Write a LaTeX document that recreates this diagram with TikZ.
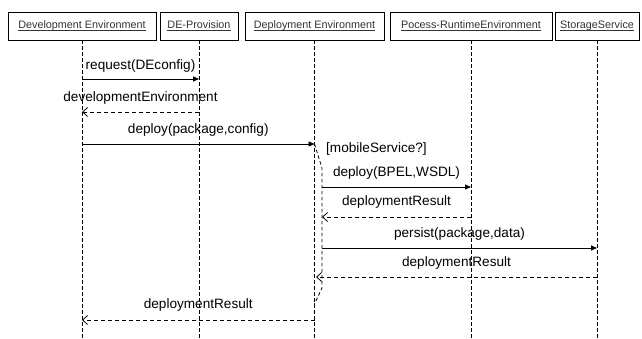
\documentclass[tikz,border=0pt]{standalone}
\usepackage{fontspec}
\setmainfont{Liberation Sans}
\usetikzlibrary{arrows.meta}
\definecolor{lbl}{HTML}{333333}
\newcommand\myul[1]{\setbox0\hbox{#1}\rlap{\color{lbl}\rule[-1.9pt]{\wd0}{0.75pt}}\box0}
\tikzset{
  obj/.style={draw=black, line width=0.8pt, minimum height=28pt, inner sep=0pt, font=\fontsize{10.8}{13}\selectfont, text=lbl},
  life/.style={draw=black, line width=0.7pt, dash pattern=on 3.5pt off 2.5pt},
  callmsg/.style={draw=black, line width=0.8pt, -{Triangle[length=6pt,width=5pt]}},
  retmsg/.style={draw=black, line width=0.8pt, dash pattern=on 4pt off 3pt, -{Straight Barb[length=5pt,width=9pt]}},
  mlabel/.style={font=\fontsize{13.6}{15}\selectfont, inner sep=0pt, text=black},
}
\begin{document}
\begin{tikzpicture}[x=1pt,y=-1pt]
\useasboundingbox[fill=white] (0,0) rectangle (642,339);
% objects
\node[obj, minimum width=148pt] (de) at (82,26) {\myul{Development Environment}};
\node[obj, minimum width=78pt] (dp) at (199,26) {\myul{DE-Provision}};
\node[obj, minimum width=139pt] (dep) at (314.5,26) {\myul{Deployment Environment}};
\node[obj, minimum width=162pt] (pre) at (471,26) {\myul{Pocess-RuntimeEnvironment}};
\node[obj, minimum width=84pt] (ss) at (597,26) {\myul{StorageService}};
% lifeline ends
\coordinate (bot) at (0,339);
\draw[life] (de.south) -- (de.south |- bot);
\draw[life] (dp.south) -- (dp.south |- bot);
\draw[life] (dep.south) -- (dep.south |- bot);
\draw[life] (pre.south) -- (pre.south |- bot);
\draw[life] (ss.south) -- (ss.south |- bot);
% branch (activation) for mobileService
\coordinate (b1) at (314.5,144);
\coordinate (b2) at (322,168);
\coordinate (b3) at (322,288);
\coordinate (b4) at (314.5,304);
\draw[life, line width=0.8pt] (b1) -- (b2) -- (b3) -- (b4);
\node[mlabel, anchor=west] (guard) at (326,149) {[mobileService?]};
% messages
\coordinate (m1a) at (de.south |- 0,79);
\coordinate (m1b) at (dp.south |- 0,79);
\draw[callmsg] (m1a) -- (m1b) node[mlabel, midway, yshift=13pt] (l1) {request(DEconfig)};
\coordinate (m2a) at (dp.south |- 0,112);
\coordinate (m2b) at (de.south |- 0,112);
\draw[retmsg] (m2a) -- (m2b) node[mlabel, midway, yshift=14pt] (l2) {developmentEnvironment};
\coordinate (m3a) at (de.south |- 0,144);
\draw[callmsg] (m3a) -- (b1) node[mlabel, midway, yshift=14pt] (l3) {deploy(package,config)};
\coordinate (m4a) at (322,187);
\coordinate (m4b) at (pre.south |- 0,187);
\draw[callmsg] (m4a) -- (m4b) node[mlabel, midway, yshift=14pt] (l4) {deploy(BPEL,WSDL)};
\coordinate (m5a) at (pre.south |- 0,217);
\coordinate (m5b) at (322,217);
\draw[retmsg] (m5a) -- (m5b) node[mlabel, midway, yshift=15pt] (l5) {deploymentResult};
\coordinate (m6a) at (322,248);
\coordinate (m6b) at (ss.south |- 0,248);
\draw[callmsg] (m6a) -- (m6b) node[mlabel, midway, yshift=14pt] (l6) {persist(package,data)};
\coordinate (m7a) at (ss.south |- 0,277);
\coordinate (m7b) at (316,277);
\draw[retmsg] (m7a) -- (m7b) node[mlabel, midway, yshift=14pt] (l7) {deploymentResult};
\coordinate (m8a) at (dep.south |- 0,320);
\coordinate (m8b) at (de.south |- 0,320);
\draw[retmsg] (m8a) -- (m8b) node[mlabel, midway, yshift=15pt] (l8) {deploymentResult};
\end{tikzpicture}
\end{document}
